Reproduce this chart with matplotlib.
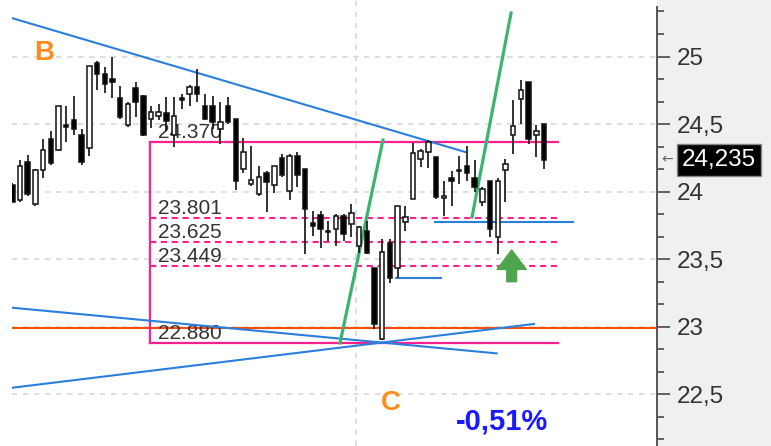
import matplotlib
matplotlib.use('Agg')
import matplotlib.pyplot as plt
from matplotlib.patches import Rectangle
from matplotlib.ticker import MultipleLocator, FixedLocator, FuncFormatter
import numpy as np

plt.rcParams['font.family'] = ['Liberation Sans', 'DejaVu Sans']

# ---------------- data ----------------
opens = [24.05, 23.94, 24.22, 23.91, 24.16, 24.39, 24.31, 24.49, 24.53, 24.42,
         24.32, 24.95, 24.87, 24.835, 24.69, 24.49, 24.77, 24.71, 24.54, 24.56,
         24.58, 24.415, 24.69, 24.725, 24.775, 24.63, 24.63, 24.465, 24.63, 24.54,
         24.17, 24.056, 23.98, 24.14, 24.05, 24.25, 24.006, 24.266, 24.167, 23.766,
         23.825, 23.709, 23.721, 23.82, 23.758, 23.597, 23.709, 23.436, 22.909, 23.622,
         23.436, 23.771, 23.944, 24.242, 24.291, 24.254, 23.952, 24.10, 24.15, 24.192,
         24.10, 23.92, 24.076, 23.66, 24.16, 24.415, 24.688, 24.812, 24.415, 24.497]
highs = [24.06, 24.23, 24.27, 24.17, 24.39, 24.45, 24.63, 24.63, 24.71, 24.46,
         24.93, 24.97, 24.92, 25.00, 24.78, 24.66, 24.81, 24.715, 24.63, 24.65,
         24.70, 24.70, 24.725, 24.79, 24.91, 24.725, 24.71, 24.66, 24.70, 24.54,
         24.40, 24.34, 24.19, 24.15, 24.19, 24.28, 24.28, 24.29, 24.167, 23.857,
         23.857, 23.783, 23.833, 23.833, 23.907, 23.746, 23.783, 23.436, 23.647, 23.647,
         23.89, 23.89, 24.36, 24.316, 24.385, 24.254, 24.08, 24.155, 24.266, 24.34,
         24.234, 24.031, 24.076, 24.10, 24.242, 24.675, 24.829, 24.812, 24.489, 24.497]
lows = [23.92, 23.92, 23.97, 23.89, 24.10, 24.20, 24.30, 24.37, 24.42, 24.20,
        24.26, 24.75, 24.73, 24.69, 24.54, 24.48, 24.55, 24.41, 24.47, 24.53,
        24.45, 24.33, 24.61, 24.63, 24.66, 24.53, 24.465, 24.35, 24.50, 24.01,
        24.14, 24.04, 23.97, 23.845, 23.99, 24.105, 23.94, 24.03, 23.535, 23.671,
        23.585, 23.634, 23.597, 23.634, 23.66, 23.548, 23.535, 22.978, 22.898, 23.325,
        23.362, 23.709, 23.944, 24.18, 24.172, 23.944, 23.82, 23.894, 24.056, 24.08,
        23.994, 23.894, 23.66, 23.535, 23.92, 24.279, 24.502, 24.353, 24.254, 24.167]
closes = [23.92, 24.19, 23.98, 24.16, 24.31, 24.21, 24.63, 24.48, 24.46, 24.22,
          24.93, 24.87, 24.80, 24.81, 24.55, 24.65, 24.66, 24.415, 24.59, 24.59,
          24.52, 24.56, 24.68, 24.775, 24.725, 24.54, 24.515, 24.515, 24.515, 24.08,
          24.29, 24.085, 24.105, 24.07, 24.19, 24.12, 24.266, 24.12, 23.87, 23.746,
          23.721, 23.697, 23.82, 23.684, 23.84, 23.734, 23.548, 23.015, 23.552, 23.362,
          23.89, 23.808, 24.286, 24.303, 24.37, 23.957, 23.969, 24.08, 24.162, 24.135,
          24.036, 24.019, 23.721, 24.08, 24.204, 24.482, 24.75, 24.39, 24.447, 24.235]

last_price = 24.235
last_price_label = "24,235"
fib_levels = [24.370, 23.801, 23.625, 23.449, 22.880]
fib_labels = ["24.370", "23.801", "23.625", "23.449", "22.880"]
fib_start, fib_end = 17.87, 70.81
support_level = 22.99

# trend lines (start index, start value, end index, end value)
blue_lines = [
    (0.05, 25.283, 58.75, 24.293),
    (0.05, 23.139, 62.86, 22.801),
    (0.05, 22.547, 67.70, 23.019),
    (49.8, 23.357, 55.6, 23.357),
    (54.85, 23.772, 72.7, 23.772),
]
green_lines = [
    (42.53, 22.878, 48.10, 24.381),
    (59.66, 23.811, 64.72, 25.322),
]
ytick_values = [22.5, 23, 23.5, 24, 24.5, 25]
ytick_labels = ["22,5", "23", "23,5", "24", "24,5", "25"]
vgrid_position = 44.6
change_text = "-0,51%"

# ---------------- figure ----------------
W, H = 771, 446
fig = plt.figure(figsize=(W / 100, H / 100), dpi=100)
fig.patch.set_facecolor('white')
fig.patches.append(Rectangle((657 / W, 0), 1 - 657 / W, 1, transform=fig.transFigure,
                             facecolor='#f0f0f0', edgecolor='none', zorder=-5))
ax = fig.add_axes([12 / W, 0, (657 - 12) / W, 1])
ax.set_facecolor('white')
ax.set_xlim(-0.04, 83.66)
ax.set_ylim(22.115, 25.4185)

# grid
grid_kw = dict(color='#d4d4d4', lw=1.1, linestyle=(0, (3.6, 3.6)), zorder=0)
for v in ytick_values:
    ax.axhline(v, **grid_kw)
ax.axvline(vgrid_position, **grid_kw)

# support line
ax.axhline(support_level, color='#ff4a00', lw=1.5, zorder=2)

# fib box
pink = '#ff1f8e'
ax.plot([fib_start, fib_end], [fib_levels[0]] * 2, color=pink, lw=1.6, zorder=2)
ax.plot([fib_start, fib_end], [fib_levels[-1]] * 2, color=pink, lw=1.6, zorder=2)
ax.plot([fib_start, fib_start], [fib_levels[-1], fib_levels[0]], color=pink, lw=1.6, zorder=2)
for lv in fib_levels[1:-1]:
    ax.plot([fib_start, fib_end], [lv, lv], color=pink, lw=1.5,
            linestyle=(0, (3, 2.2)), zorder=2)
for lv, lab in zip(fib_levels, fib_labels):
    ax.text(fib_start + 1.0, lv, lab, fontsize=15, color='#333333',
            ha='left', va='bottom', zorder=2.5)

# trend lines
for x0, y0, x1, y1 in blue_lines:
    ax.plot([x0, x1], [y0, y1], color='#2b7fdc', lw=1.5, zorder=2.6)
for x0, y0, x1, y1 in green_lines:
    ax.plot([x0, x1], [y0, y1], color='#3cb46e', lw=2.3, zorder=2.7)

# candles
idx = np.arange(len(opens))
o = np.array(opens); h = np.array(highs); l = np.array(lows); c = np.array(closes)
up = c >= o
ax.vlines(idx, l, h, color='#111111', lw=1.2, zorder=3)
bottom = np.minimum(o, c)
height = np.maximum(np.abs(c - o), 0.012)
ax.bar(idx, height, bottom=bottom, width=0.58,
       color=np.where(up, 'white', 'black'), edgecolor='#111111',
       linewidth=1.1, zorder=4)

# letters / annotations
ax.text(4.11, 25.026, 'B', fontsize=20, fontweight='bold', color='#ff8c1a',
        ha='center', va='center', zorder=5)
ax.text(49.1, 22.433, 'C', fontsize=20, fontweight='bold', color='#ff8c1a',
        ha='center', va='center', zorder=5)
ax.text(63.6, 22.30, change_text, fontsize=21, fontweight='bold', color='#1a1aff',
        ha='center', va='center', zorder=5)
ax.annotate('', xy=(64.8, 23.567), xytext=(64.8, 23.332),
            arrowprops=dict(arrowstyle='simple,head_length=1.4,head_width=2.1,tail_width=0.7',
                            color='#4ea54e', shrinkA=0, shrinkB=0, mutation_scale=10),
            zorder=5)

# axes styling
for s in ['top', 'left', 'bottom']:
    ax.spines[s].set_visible(False)
ax.spines['right'].set_color('#555555')
ax.spines['right'].set_linewidth(1.4)
ax.spines['right'].set_bounds(22.115, 25.367)
ax.set_xticks([])
ax.yaxis.tick_right()
ax.yaxis.set_major_locator(FixedLocator(ytick_values))
ax.set_yticklabels(ytick_labels)
ax.yaxis.set_minor_locator(MultipleLocator(1 / 6))
ax.tick_params(axis='y', which='major', length=9, width=1.3, color='#555555',
               labelsize=17.5, labelcolor='#333333', pad=5.5)
ax.tick_params(axis='y', which='minor', length=5, width=1.3, color='#555555')

# last price label
trans = ax.get_yaxis_transform()
ax.text(1.0383, last_price, last_price_label, transform=trans, color='white',
        fontsize=17.5, ha='left', va='center', clip_on=False,
        bbox=dict(boxstyle='square,pad=0.2', facecolor='black', edgecolor='#888888', lw=1))
ax.text(1.006, last_price, '←', transform=trans, color='#666666', fontsize=10,
        ha='left', va='center', clip_on=False, family='DejaVu Sans')

fig.savefig('out.png', dpi=100)
